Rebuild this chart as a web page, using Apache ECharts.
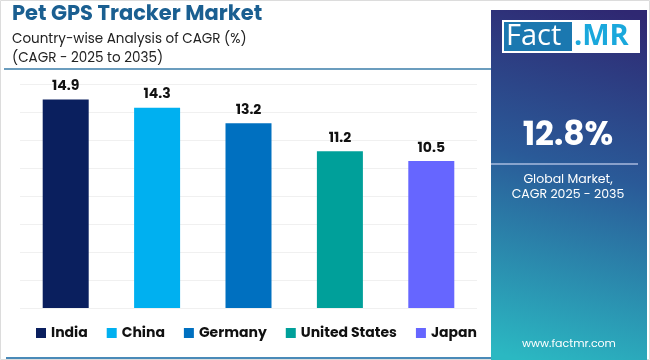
<!DOCTYPE html>
<html><head><meta charset="utf-8">
<script src="https://cdn.jsdelivr.net/npm/echarts@6/dist/echarts.min.js"></script>
<style>html,body{margin:0;padding:0;background:#fff}#c{width:650px;height:360px}</style>
</head><body><div id="c"></div>
<script>
var categories = ['India', 'China', 'Germany', 'United States', 'Japan'];
var values = [14.9, 14.3, 13.2, 11.2, 10.5];
var colors = ['#0a1f5e', '#00b0f0', '#0070c0', '#00a09a', '#6666ff'];
var yTicks = [0, 2, 4, 6, 8, 10, 12, 14, 16];
var globalCagr = '12.8%';

var F = 'Poppins, Inter, "Noto Sans", sans-serif';
var chart = echarts.init(document.getElementById('c'));
var series = categories.map(function (name, i) {
  return {
    name: name, type: 'bar', stack: 'all', barWidth: 46,
    itemStyle: { color: colors[i] },
    label: { show: true, position: 'top', color: '#111', fontFamily: F, fontWeight: 'bold', fontSize: 14, distance: 6 },
    data: categories.map(function (c, j) { return j === i ? values[i] : '-'; })
  };
});
chart.setOption({
  animation: false,
  grid: { left: 20, right: 173, top: 84, bottom: 52 },
  xAxis: { type: 'category', data: categories, axisLine: { show: false }, axisTick: { show: false }, axisLabel: { show: false } },
  yAxis: { type: 'value', min: yTicks[0], max: yTicks[yTicks.length - 1], interval: 2,
    axisLabel: { show: false }, axisLine: { show: false }, axisTick: { show: false },
    splitLine: { lineStyle: { color: '#f0f0f0', width: 1 } } },
  legend: { top: 321, left: 31, itemWidth: 10, itemHeight: 10, itemGap: 19, icon: 'rect',
    textStyle: { fontFamily: F, fontWeight: 'bold', fontSize: 14, color: '#111' }, data: categories },
  series: series,
  graphic: [
    { type: 'rect', shape: { x: 0.5, y: 0.5, width: 649, height: 359 }, style: { fill: 'none', stroke: '#dcdcdc', lineWidth: 1 }, z: -10 },
    { type: 'text', left: 12, top: 4, style: { text: 'Pet GPS Tracker Market', fontFamily: F, fontWeight: 'bold', fontSize: 21, fill: '#1a5f91' } },
    { type: 'text', left: 12, top: 30, style: { text: 'Country-wise Analysis of CAGR (%)\n(CAGR - 2025 to 2035)', fontFamily: F, fontSize: 13.5, lineHeight: 19, fill: '#222' } },
    { type: 'line', shape: { x1: 4, y1: 69, x2: 491, y2: 69 }, style: { stroke: '#3a7ca8', lineWidth: 1.5 } },
    { type: 'line', shape: { x1: 6, y1: 358, x2: 491, y2: 358 }, style: { stroke: '#4a8ab8', lineWidth: 2 } },
    { type: 'rect', shape: { x: 491, y: 10, width: 156, height: 350 },
      style: { fill: new echarts.graphic.LinearGradient(0.8, 0, 0.2, 1, [
        { offset: 0, color: '#2f2872' }, { offset: 0.45, color: '#2a5a98' }, { offset: 1, color: '#2bb8c2' }]) } },
    { type: 'rect', shape: { x: 502, y: 20, width: 138, height: 33 }, style: { fill: '#ffffff' } },
    { type: 'rect', shape: { x: 504, y: 22, width: 68, height: 29 }, style: { fill: '#1b78b0' } },
    { type: 'text', x: 506, y: 37, style: { text: 'Fact', verticalAlign: 'middle', fontFamily: '"Open Sans", sans-serif', fontSize: 29, fill: '#ffffff' } },
    { type: 'text', x: 574, y: 37, style: { text: '.MR', verticalAlign: 'middle', fontFamily: '"Open Sans", sans-serif', fontWeight: 'bold', fontSize: 29, fill: '#1aa8dc' } },
    { type: 'text', x: 568, y: 137, style: { text: globalCagr, align: 'center', verticalAlign: 'middle', fontFamily: F, fontWeight: 'bold', fontSize: 33, fill: '#ffffff' } },
    { type: 'line', shape: { x1: 491, y1: 164, x2: 638, y2: 164 }, style: { stroke: 'rgba(200,210,240,0.8)', lineWidth: 1.5 } },
    { type: 'text', x: 568, y: 187, style: { text: 'Global Market,\nCAGR 2025 - 2035', align: 'center', verticalAlign: 'middle', fontFamily: F, fontSize: 12.5, lineHeight: 15, fill: '#ffffff' } },
    { type: 'text', x: 569, y: 344, style: { text: 'www.factmr.com', align: 'center', verticalAlign: 'middle', fontFamily: F, fontSize: 11, fill: '#ffffff' } }
  ]
});
</script></body></html>
